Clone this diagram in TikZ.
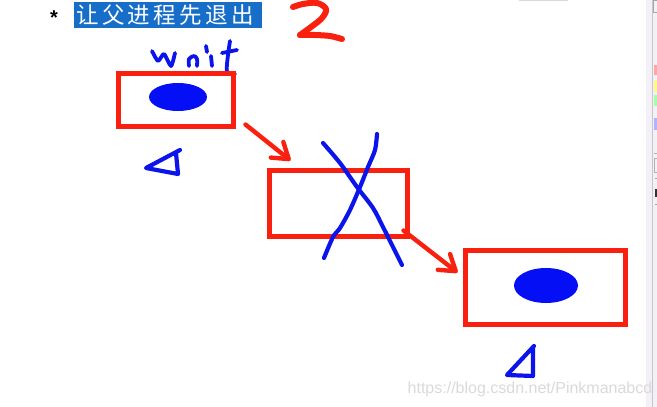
\documentclass[tikz,border=0pt]{standalone}
\usepackage{fontspec}
\usetikzlibrary{arrows.meta,shapes.geometric,calc}
\newfontfamily\cjkfont[LetterSpace=15]{Noto Sans CJK SC}
\newfontfamily\arialfont{Liberation Sans}
\definecolor{penred}{RGB}{250,32,16}
\definecolor{penblue}{RGB}{10,20,235}
\definecolor{blobblue}{RGB}{5,15,245}
\definecolor{selblue}{RGB}{22,110,200}
\definecolor{wmgray}{RGB}{218,218,218}
\definecolor{stripbg}{RGB}{243,240,247}
\begin{document}
\begin{tikzpicture}[x=1pt,y=-1pt,
  redbox/.style={draw=penred,line width=5pt,rectangle,inner sep=0pt},
  blob/.style={ellipse,fill=blobblue,inner sep=0pt},
  ink/.style={draw=penblue,line width=4.2pt,line cap=round,line join=round},
  redink/.style={draw=penred,line width=6pt,line cap=round,line join=round},
  redarrow/.style={draw=penred,line width=4.4pt,line cap=round,
    -{Straight Barb[length=15pt,width=20pt,round]}},
]
\useasboundingbox (0,0) rectangle (657,407);
\fill[white] (0,0) rectangle (657,407);

% right-hand strip of the screenshot
\fill[stripbg] (646,0) rectangle (657,407);
\draw[gray!45,line width=0.8pt] (652.5,0) -- (652.5,407);
\fill[red!35] (654,65) rectangle (657,75);
\fill[yellow!45] (654,80) rectangle (657,92);
\fill[green!35] (654,95) rectangle (657,106);
\fill[blue!30] (654,118) rectangle (657,130);
\draw[gray!60,line width=0.6pt] (654,153) -- (657,153);
\draw[gray!60,line width=0.6pt] (654,158) rectangle (658,172);
\fill[black!80] (655,189) rectangle (657,197);
\draw[gray!70,line width=0.6pt] (655,178) -- (657,178);
\draw[gray!70,line width=0.6pt] (655,204) -- (657,204);
\draw[gray!70,line width=0.8pt] (653,0) rectangle (658,12);
\draw[gray!30,line width=1.2pt] (519,0.6) -- (568,0.6);

% title line
\node[anchor=base,font=\arialfont\bfseries\fontsize{20}{20}\selectfont,inner sep=0pt] (star) at (54,24) {*};
\node[fill=selblue,minimum width=188pt,minimum height=26pt,inner sep=0pt] (hl) at (168,15) {};
\node[anchor=base west,font=\cjkfont\fontsize{22.5}{22.5}\selectfont,text=white,inner sep=0pt] (title) at (76,23.5) {让父进程先退出};

% handwritten "2"
\draw[redink] plot[smooth,tension=0.6] coordinates {(293,7) (303,4) (317,3) (326,9) (322,18) (311,27) (300,35)};
\draw[redink] plot[smooth,tension=0.5] coordinates {(300,35) (315,35) (330,36) (342,39)};

% handwritten "wait"
\draw[ink,line width=3.8pt] plot[smooth,tension=0.4] coordinates {(152,51) (158,61) (164,54) (171,66) (175,53)};
\draw[ink,line width=3.8pt] plot[smooth,tension=0.5] coordinates {(189,66) (189,59) (194,56) (197,59) (197,66)};
\draw[ink,line width=3.8pt] (206,46) -- (207,52);
\draw[ink,line width=3.8pt] (211,56) -- (212,66);
\draw[ink,line width=3.8pt] plot[smooth,tension=0.5] coordinates {(230,41) (228,55) (227,72) (235,74)};
\draw[ink,line width=3.8pt] (222,53) -- (237,50);

% boxes and blobs
\node[redbox,minimum width=115pt,minimum height=53pt] (b1) at (176,100) {};
\node[blob,minimum width=58pt,minimum height=28pt] (e1) at (178,97) {};
\node[redbox,minimum width=138pt,minimum height=66pt] (b2) at (338.5,203.5) {};
\node[redbox,minimum width=160pt,minimum height=74pt] (b3) at (545.5,287.5) {};
\node[blob,minimum width=64pt,minimum height=35pt] (e3) at (546,285.5) {};

% triangles
\draw[ink] (180,150) -- (146,168) -- (178,174) -- (176,153);
\draw[ink] (534,346) -- (507,375) -- (533,376) -- (533,348);

% arrows
\coordinate (a1s) at ($(b1.south east)+(9.5,-4.5)$);
\coordinate (a1e) at ($(b2.north west)+(23.5,-7.5)$);
\coordinate (a2s) at ($(b2.south east)+(-6.5,-8.5)$);
\coordinate (a2e) at ($(b3.north west)+(-5.5,24.5)$);
\draw[redarrow] (a1s) -- (a1e);
\draw[redarrow] (a2s) -- (a2e);

% blue cross over the middle box
\draw[ink] plot[smooth] coordinates {(323,143) (340,163) (357,187) (373,208) (383,227) (393,247) (402,265)};
\draw[ink] plot[smooth] coordinates {(377,134) (375,150) (368,167) (360,187) (350,210) (340,228) (333,237) (324,258)};

% watermark
\node[font=\arialfont\fontsize{16}{16}\selectfont,text=wmgray,inner sep=0pt] (wm) at (530,389) {https://blog.csdn.net/Pinkmanabcd};
\end{tikzpicture}
\end{document}
